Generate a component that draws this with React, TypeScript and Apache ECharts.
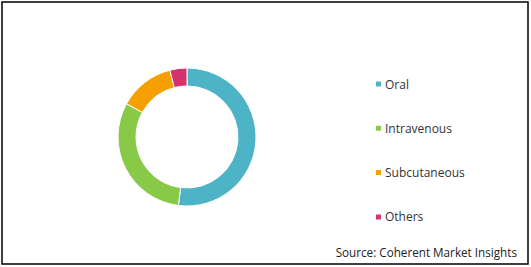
import React, { useEffect, useRef } from "react";
import * as echarts from "echarts";

const categories = ["Oral", "Intravenous", "Subcutaneous", "Others"];
const values = [52, 31, 13, 4];
const colors = ["#4db4c8", "#88c947", "#f5a000", "#d4336e"];
const sourceText = "Source: Coherent Market Insights";

export default function App() {
  const ref = useRef<HTMLDivElement>(null);
  useEffect(() => {
    if (!ref.current) return;
    const chart = echarts.init(ref.current, null, { renderer: "svg" });
    chart.setOption({
      animation: false,
      color: colors,
      legend: {
        orient: "vertical",
        left: 374,
        top: 78,
        padding: 0,
        itemWidth: 7,
        itemHeight: 7,
        itemGap: 32.3,
        icon: "rect",
        selectedMode: false,
        textStyle: { fontFamily: "Open Sans", fontSize: 12, color: "#333", padding: [0, 0, 0, -2] },
        data: categories,
      },
      graphic: [
        {
          type: "rect",
          shape: { x: 2, y: 2, width: 526, height: 262 },
          style: { fill: "none", stroke: "#000", lineWidth: 1.5 },
        },
        {
          type: "text",
          right: 14,
          top: 246,
          style: { text: sourceText, fontFamily: "Open Sans", fontSize: 11.7, fill: "#222" },
        },
      ],
      series: [
        {
          type: "pie",
          center: [187, 137],
          radius: [51, 69],
          startAngle: 90,
          clockwise: true,
          label: { show: false },
          labelLine: { show: false },
          itemStyle: { borderColor: "#fff", borderWidth: 1 },
          emphasis: { disabled: true },
          data: categories.map((name, i) => ({ name, value: values[i] })),
        },
      ],
    });
    return () => chart.dispose();
  }, []);
  return <div ref={ref} style={{ position: "fixed", left: 0, top: 0, width: 531, height: 267, background: "#fff" }} />;
}
